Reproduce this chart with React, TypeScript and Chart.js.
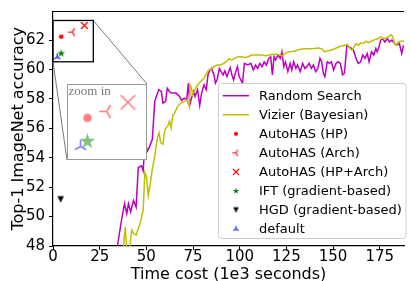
import React, { useEffect, useRef } from 'react';
import { Chart, registerables } from 'chart.js';

Chart.register(...registerables);

const FONT = "'DejaVu Sans', sans-serif";

// ---------------- data ----------------
const rsTime = [
  34.0, 34.6, 36.4, 38.3, 39.5, 40.4, 41.6, 43.1, 44.5, 45.7,
  47.4, 48.3, 49.2, 50.6, 51.9, 53.2, 54.5, 55.4, 56.6, 58.0,
  58.9, 60.3, 61.2, 62.4, 63.3, 65.9, 67.7, 68.9, 70.3, 71.6,
  72.5, 73.3, 74.2, 75.3, 76.1, 77.4, 78.6, 79.6, 80.9, 82.1,
  83.0, 84.1, 84.9, 86.2, 87.0, 87.9, 89.1, 90.0, 91.1, 92.0,
  93.2, 94.1, 94.9, 95.8, 96.7, 97.9, 98.8, 99.7, 100.6, 101.5,
  102.5, 104.3, 106.0, 107.3, 108.5, 109.6, 110.8, 112.0, 113.1, 114.3,
  115.5, 116.6, 117.5, 118.4, 119.2, 120.5, 121.7, 122.6, 123.6, 124.5,
  125.8, 127.0, 127.9, 128.9, 130.1, 131.0, 132.4, 133.7, 134.9, 135.9,
  137.2, 138.4, 139.5, 140.7, 141.9, 143.0, 143.9, 144.8, 145.6, 146.9,
  148.1, 149.1, 150.3, 151.6, 152.7, 153.9, 155.1, 156.1, 157.4, 158.6,
  160.1, 160.9, 162.3, 163.5, 164.8, 165.9, 167.1, 168.3, 169.3, 170.6,
  171.8, 172.9, 173.6, 174.6, 175.5, 176.7, 177.6, 179.1, 180.3, 181.5,
  182.9, 184.1, 185.5, 186.8, 187.8,
];
const rsAcc = [
  46.5, 48.07, 49.53, 50.88, 50.2, 50.88, 50.31, 51.1, 50.65, 53.34,
  53.46, 53.12, 55.03, 54.47, 54.81, 55.26, 57.84, 58.18, 58.63, 58.51,
  57.72, 57.84, 58.73, 58.51, 58.4, 58.4, 58.18, 57.91, 58.06, 57.95,
  59.07, 57.62, 58.06, 58.51, 58.18, 58.63, 57.57, 58.4, 58.96, 58.63,
  59.64, 59.97, 60.08, 59.64, 59.07, 59.3, 60.08, 59.86, 59.64, 59.91,
  59.52, 59.86, 60.13, 59.64, 59.3, 59.86, 60.2, 59.52, 59.3, 59.07,
  60.42, 60.31, 60.42, 59.97, 60.31, 60.08, 60.42, 60.2, 60.53, 60.31,
  60.76, 60.87, 59.64, 60.87, 60.65, 60.99, 60.76, 61.21, 60.2, 60.53,
  59.86, 60.42, 59.97, 60.53, 60.08, 60.31, 59.86, 60.42, 60.08, 60.2,
  60.42, 60.08, 60.31, 59.86, 60.08, 60.76, 60.53, 59.75, 59.52, 60.53,
  60.42, 60.53, 59.97, 60.42, 60.53, 60.42, 59.64, 59.75, 61.66, 61.54,
  61.43, 61.32, 60.76, 60.42, 60.53, 60.99, 60.76, 61.09, 60.53, 61.21,
  60.99, 61.43, 61.21, 61.54, 62.0, 62.1, 61.88, 62.1, 61.88, 62.0,
  61.77, 61.66, 61.77, 61.09, 61.66,
];
const vzTime = [
  37.0, 37.8, 38.7, 39.6, 41.0, 42.2, 43.1, 44.5, 45.7, 46.9,
  48.3, 49.2, 50.1, 51.0, 52.2, 53.2, 54.1, 55.0, 55.9, 56.8,
  57.7, 58.9, 59.8, 60.6, 61.5, 62.4, 63.3, 64.2, 65.1, 66.8,
  68.5, 70.3, 71.2, 72.1, 73.0, 73.5, 74.2, 74.7, 75.6, 77.4,
  79.1, 80.9, 82.3, 83.5, 84.9, 86.2, 87.9, 89.7, 91.5, 93.2,
  94.1, 95.8, 97.6, 99.4, 101.1, 102.9, 104.6, 106.4, 109.0, 111.7,
  114.3, 116.9, 119.6, 121.8, 123.1, 124.0, 126.6, 129.2, 131.9, 134.5,
  137.2, 139.8, 142.4, 144.2, 145.4, 146.9, 148.6, 151.2, 153.9, 156.5,
  157.7, 158.8, 160.1, 161.3, 162.3, 163.5, 164.8, 166.2, 167.6, 168.8,
  170.6, 172.3, 174.1, 175.4, 176.7, 178.5, 180.3, 181.2, 182.0, 182.9,
  183.8, 185.0, 186.4, 188.2,
];
const vzAcc = [
  46.5, 48.07, 49.3, 47.5, 47.8, 49.08, 48.86, 48.74, 49.19, 49.64,
  50.43, 53.01, 52.67, 51.44, 52.33, 53.24, 53.8, 54.58, 55.37, 55.7,
  55.03, 54.92, 55.82, 56.04, 56.15, 56.49, 56.04, 56.94, 57.05, 57.5,
  57.72, 57.84, 57.95, 57.84, 57.5, 58.96, 58.73, 58.29, 58.51, 58.96,
  59.19, 59.41, 59.75, 59.97, 60.02, 60.2, 60.31, 60.31, 60.42, 60.58,
  60.72, 60.65, 60.8, 60.87, 60.87, 60.82, 60.87, 60.99, 60.99, 60.99,
  60.94, 61.03, 61.05, 60.99, 60.92, 61.09, 61.21, 61.25, 61.36, 61.41,
  61.41, 61.43, 61.46, 61.39, 61.21, 61.27, 61.32, 61.43, 61.59, 61.66,
  61.7, 61.48, 61.32, 61.54, 61.77, 61.66, 61.81, 61.77, 61.93, 61.83,
  61.93, 62.04, 62.1, 62.22, 62.1, 62.15, 62.29, 62.37, 62.22, 61.77,
  61.66, 61.88, 61.93, 61.93,
];

const methodNames = [
  'AutoHAS (HP)',
  'AutoHAS (Arch)',
  'AutoHAS (HP+Arch)',
  'IFT (gradient-based)',
  'HGD (gradient-based)',
  'default',
];
const methodTime = [4.4, 10.3, 16.8, 4.4, 4.1, 2.3];
const methodAcc = [62.24, 62.55, 63.0, 61.1, 51.17, 60.85];

const seriesNames = ['Random Search', 'Vizier (Bayesian)'];

const xTickStep = 25;
const yTickStep = 2;
const xRange = [0, 188];
const yRange = [48, 63.95];
const zoomTime = [0, 21.6];
const zoomAcc = [60.53, 63.34];
const insetTime = [0, 20.8];
const insetAcc = [60.48, 63.6];

// ---------------- styles ----------------
const seriesColor = ['#bf00bf', '#bfbf00'];
const methodColor = ['#ff0000', '#ff0000', '#ff0000', '#008000', '#000000', '#0000ff'];
const methodKind = ['circle', 'triLeft', 'x', 'star', 'triDown', 'triUp'];
const mainSize = [4.6, 9, 7, 8.5, 6.5, 7];
const legendSize = [4.2, 7.5, 6, 6.8, 5.5, 5.8];
const insetSize = [8.5, 15, 14.5, 16.5, 0, 13];

function makeSprite(kind: string, s: number, color: string, lw: number): HTMLCanvasElement {
  const dim = Math.ceil(s + lw + 4);
  const c = document.createElement('canvas');
  c.width = dim;
  c.height = dim;
  const ctx = c.getContext('2d')!;
  const cx = dim / 2;
  const cy = dim / 2;
  const r = s / 2;
  ctx.strokeStyle = color;
  ctx.fillStyle = color;
  ctx.lineWidth = lw;
  ctx.lineCap = 'butt';
  ctx.beginPath();
  if (kind === 'circle') {
    ctx.arc(cx, cy, r, 0, Math.PI * 2);
    ctx.fill();
  } else if (kind === 'triLeft') {
    ctx.moveTo(cx, cy); ctx.lineTo(cx - r, cy);
    ctx.moveTo(cx, cy); ctx.lineTo(cx + r * 0.5, cy - r * 0.866);
    ctx.moveTo(cx, cy); ctx.lineTo(cx + r * 0.5, cy + r * 0.866);
    ctx.stroke();
  } else if (kind === 'triUp') {
    ctx.moveTo(cx, cy); ctx.lineTo(cx, cy - r);
    ctx.moveTo(cx, cy); ctx.lineTo(cx - r * 0.866, cy + r * 0.5);
    ctx.moveTo(cx, cy); ctx.lineTo(cx + r * 0.866, cy + r * 0.5);
    ctx.stroke();
  } else if (kind === 'x') {
    ctx.moveTo(cx - r, cy - r); ctx.lineTo(cx + r, cy + r);
    ctx.moveTo(cx - r, cy + r); ctx.lineTo(cx + r, cy - r);
    ctx.stroke();
  } else if (kind === 'star') {
    const ri = r * 0.382;
    for (let k = 0; k < 10; k++) {
      const a = -Math.PI / 2 + (k * Math.PI) / 5;
      const rr = k % 2 === 0 ? r : ri;
      const px = cx + rr * Math.cos(a);
      const py = cy + rr * Math.sin(a);
      if (k === 0) ctx.moveTo(px, py); else ctx.lineTo(px, py);
    }
    ctx.closePath();
    ctx.fill();
  } else if (kind === 'triDown') {
    ctx.moveTo(cx, cy + r);
    ctx.lineTo(cx - r, cy - r);
    ctx.lineTo(cx + r, cy - r);
    ctx.closePath();
    ctx.fill();
  }
  return c;
}

function fade(hex: string): string {
  const n = parseInt(hex.slice(1), 16);
  return `rgba(${(n >> 16) & 255},${(n >> 8) & 255},${n & 255},0.5)`;
}

export default function App() {
  const mainRef = useRef<HTMLCanvasElement>(null);
  const insetRef = useRef<HTMLCanvasElement>(null);

  useEffect(() => {
    document.body.style.margin = '0';
    const mainSprites = methodKind.map((k, i) =>
      makeSprite(k, mainSize[i], methodColor[i], 1.2));
    const legendSprites = methodKind.map((k, i) =>
      makeSprite(k, legendSize[i], methodColor[i], 1.1));
    const insetSprites = methodKind.map((k, i) =>
      makeSprite(k, insetSize[i] || 1, fade(methodColor[i]), 1.6));

    const lineSets = [
      { t: rsTime, a: rsAcc },
      { t: vzTime, a: vzAcc },
    ].map((s, i) => ({
      type: 'line' as const,
      label: seriesNames[i],
      data: s.t.map((t, j) => ({ x: t, y: s.a[j] })),
      borderColor: seriesColor[i],
      backgroundColor: seriesColor[i],
      borderWidth: 1.5,
      pointRadius: 0,
      tension: 0,
      fill: false,
      order: i === 0 ? 2 : 1,
    }));

    const pointSets = methodNames.map((name, i) => ({
      type: 'line' as const,
      label: name,
      data: [{ x: methodTime[i], y: methodAcc[i] }],
      showLine: false,
      pointStyle: mainSprites[i] as any,
      pointRadius: 5,
      borderColor: methodColor[i],
      backgroundColor: methodColor[i],
      order: 0,
    }));

    const framePlugin = {
      id: 'frame',
      afterDraw(chart: any) {
        const { ctx, chartArea } = chart;
        const xs = chart.scales.x;
        const ys = chart.scales.y;
        ctx.save();
        // top spine
        ctx.strokeStyle = '#000';
        ctx.lineWidth = 1.2;
        ctx.beginPath();
        ctx.moveTo(chartArea.left, chartArea.top);
        ctx.lineTo(chartArea.right, chartArea.top);
        ctx.stroke();

        // zoom rectangle
        const rx0 = xs.getPixelForValue(zoomTime[0]);
        const rx1 = xs.getPixelForValue(zoomTime[1]);
        const ry0 = ys.getPixelForValue(zoomAcc[1]);
        const ry1 = ys.getPixelForValue(zoomAcc[0]);
        ctx.lineWidth = 1.3;
        ctx.strokeStyle = '#000';
        ctx.strokeRect(rx0, ry0, rx1 - rx0, ry1 - ry0);

        // connectors to inset
        const inset = insetRef.current!;
        const ix0 = inset.offsetLeft;
        const iy0 = inset.offsetTop;
        const ix1 = ix0 + inset.offsetWidth;
        const iy1 = iy0 + inset.offsetHeight;
        ctx.strokeStyle = '#555';
        ctx.lineWidth = 0.8;
        ctx.beginPath();
        ctx.moveTo(rx1, ry0); ctx.lineTo(ix1, iy0);
        ctx.moveTo(rx0, ry1); ctx.lineTo(ix0, iy1);
        ctx.stroke();

        // legend
        const lx = 218.5, ly = 83.5, lw = 187.5, lh = 155;
        const rad = 3;
        ctx.beginPath();
        ctx.moveTo(lx + rad, ly);
        ctx.lineTo(lx + lw - rad, ly);
        ctx.arcTo(lx + lw, ly, lx + lw, ly + rad, rad);
        ctx.lineTo(lx + lw, ly + lh - rad);
        ctx.arcTo(lx + lw, ly + lh, lx + lw - rad, ly + lh, rad);
        ctx.lineTo(lx + rad, ly + lh);
        ctx.arcTo(lx, ly + lh, lx, ly + lh - rad, rad);
        ctx.lineTo(lx, ly + rad);
        ctx.arcTo(lx, ly, lx + rad, ly, rad);
        ctx.closePath();
        ctx.fillStyle = 'rgba(255,255,255,0.8)';
        ctx.fill();
        ctx.strokeStyle = '#cccccc';
        ctx.lineWidth = 1;
        ctx.stroke();

        const labels = [...seriesNames, ...methodNames];
        ctx.font = `13px ${FONT}`;
        ctx.textBaseline = 'middle';
        ctx.textAlign = 'left';
        labels.forEach((lab, i) => {
          const y = 95.7 + i * 19.05;
          if (i < 2) {
            ctx.strokeStyle = seriesColor[i];
            ctx.lineWidth = 1.5;
            ctx.beginPath();
            ctx.moveTo(222.7, y);
            ctx.lineTo(249, y);
            ctx.stroke();
          } else {
            const sp = legendSprites[i - 2];
            ctx.drawImage(sp, 236 - sp.width / 2, y - sp.height / 2);
          }
          ctx.fillStyle = '#000';
          ctx.fillText(lab, 259, y + 0.5);
        });
        ctx.restore();
      },
    };

    const tickFont = { family: FONT, size: 15, lineHeight: 1 };
    const main = new Chart(mainRef.current!, {
      type: 'line',
      data: { datasets: [...lineSets, ...pointSets] as any },
      options: {
        animation: false,
        responsive: false,
        maintainAspectRatio: false,
        layout: { padding: { top: 8, left: 0, right: 0, bottom: 0 } },
        plugins: { legend: { display: false }, tooltip: { enabled: false } },
        scales: {
          x: {
            type: 'linear',
            min: xRange[0],
            max: xRange[1],
            ticks: {
              stepSize: xTickStep,
              includeBounds: false,
              font: tickFont,
              color: '#000',
              padding: 0,
              maxRotation: 0,
            },
            grid: {
              drawOnChartArea: false,
              drawTicks: true,
              tickLength: 4,
              tickWidth: 1,
              tickColor: '#000',
            },
            border: { display: true, color: '#000', width: 1.2 },
            title: {
              display: true,
              text: 'Time cost (1e3 seconds)',
              font: { family: FONT, size: 16, lineHeight: 0.8 },
              color: '#000',
              padding: { top: 0, bottom: 0 },
            },
            afterFit: (s: any) => { s.height = 35; },
          },
          y: {
            type: 'linear',
            min: yRange[0],
            max: yRange[1],
            ticks: {
              stepSize: yTickStep,
              includeBounds: false,
              font: tickFont,
              color: '#000',
              padding: 4,
            },
            grid: {
              drawOnChartArea: false,
              drawTicks: true,
              tickLength: 4,
              tickWidth: 1,
              tickColor: '#000',
            },
            border: { display: true, color: '#000', width: 1.2 },
            title: {
              display: true,
              text: 'Top-1 ImageNet accuracy',
              font: { family: FONT, size: 16, lineHeight: 1.2 },
              color: '#000',
              padding: { top: 9, bottom: 0 },
            },
            afterFit: (s: any) => { s.width = 53; },
          },
        },
      },
      plugins: [framePlugin],
    });

    const insetPlugin = {
      id: 'insetFrame',
      beforeDraw(chart: any) {
        const { ctx, width, height } = chart;
        ctx.save();
        ctx.fillStyle = '#ffffff';
        ctx.fillRect(0, 0, width, height);
        ctx.restore();
      },
      afterDraw(chart: any) {
        const { ctx, width, height } = chart;
        ctx.save();
        ctx.font = "13px 'Liberation Serif', serif";
        ctx.fillStyle = '#777777';
        ctx.textBaseline = 'alphabetic';
        ctx.fillText('zoom in', 1.5, 11);
        ctx.strokeStyle = '#999999';
        ctx.lineWidth = 1;
        ctx.strokeRect(0.5, 0.5, width - 1, height - 1);
        ctx.restore();
      },
    };

    const insetSets = methodNames.map((name, i) => ({
      label: name,
      data: [{ x: methodTime[i], y: methodAcc[i] }],
      showLine: false,
      pointStyle: insetSprites[i] as any,
      pointRadius: 5,
      borderColor: methodColor[i],
      backgroundColor: methodColor[i],
    }));

    const inset = new Chart(insetRef.current!, {
      type: 'line',
      data: { datasets: insetSets as any },
      options: {
        animation: false,
        responsive: false,
        maintainAspectRatio: false,
        layout: { padding: 0 },
        plugins: { legend: { display: false }, tooltip: { enabled: false } },
        scales: {
          x: { type: 'linear', min: insetTime[0], max: insetTime[1], display: false },
          y: { type: 'linear', min: insetAcc[0], max: insetAcc[1], display: false },
        },
      },
      plugins: [insetPlugin],
    });

    return () => {
      main.destroy();
      inset.destroy();
    };
  }, []);

  return (
    <div style={{ position: 'relative', width: 410, height: 281, overflow: 'hidden' }}>
      <canvas
        ref={mainRef}
        width={410}
        height={281}
        style={{ position: 'absolute', left: 0, top: 0, width: 410, height: 281 }}
      />
      <canvas
        ref={insetRef}
        width={80}
        height={76}
        style={{ position: 'absolute', left: 67, top: 84, width: 80, height: 76 }}
      />
    </div>
  );
}
